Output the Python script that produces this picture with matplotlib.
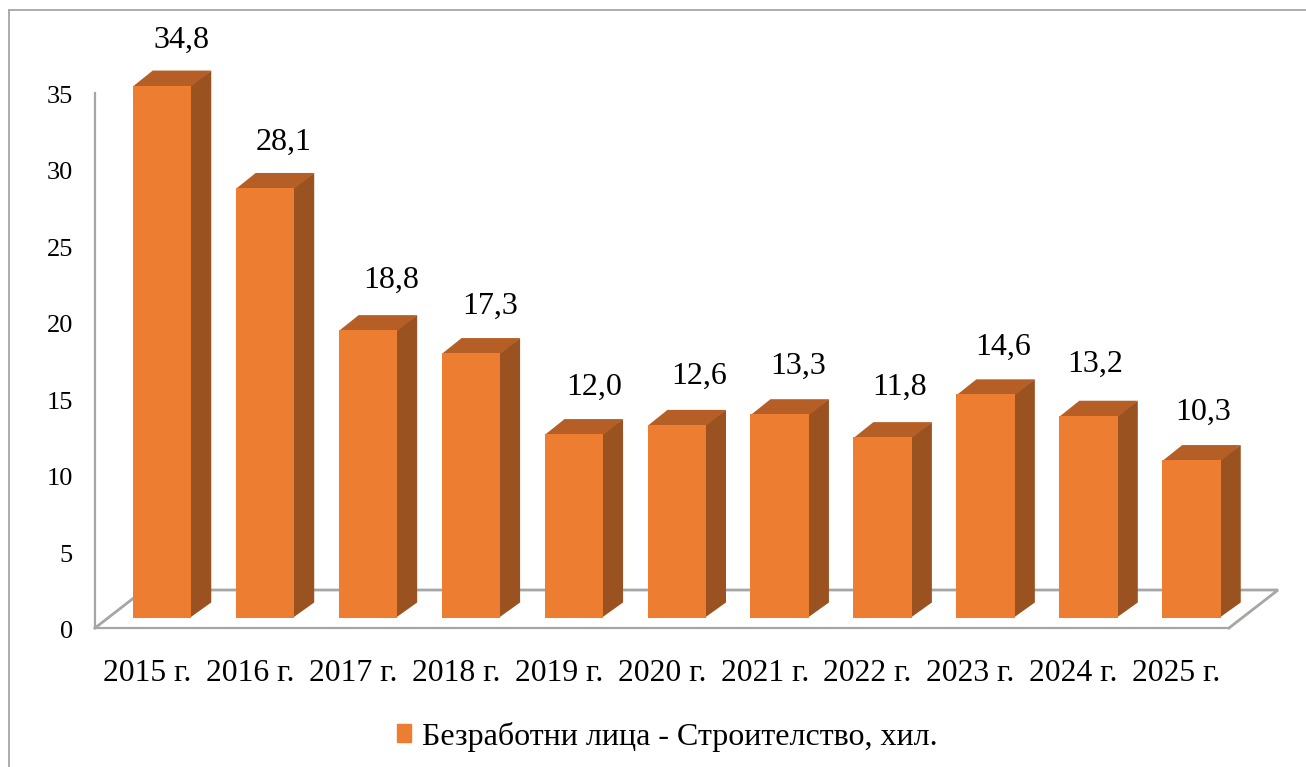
import matplotlib
matplotlib.use("Agg")
import matplotlib.pyplot as plt
from matplotlib.lines import Line2D
from matplotlib.patches import Patch
from matplotlib.transforms import ScaledTranslation

years = ["2015 г.", "2016 г.", "2017 г.", "2018 г.", "2019 г.", "2020 г.",
         "2021 г.", "2022 г.", "2023 г.", "2024 г.", "2025 г."]
values = [34.8, 28.1, 18.8, 17.3, 12.0, 12.6, 13.3, 11.8, 14.6, 13.2, 10.3]
value_labels = ["34,8", "28,1", "18,8", "17,3", "12,0", "12,6", "13,3", "11,8", "14,6", "13,2", "10,3"]
y_ticks = [0, 5, 10, 15, 20, 25, 30, 35]
legend_label = "Безработни лица - Строителство, хил."

# hand placement of the value labels, in pixels from the bar's top back edge
label_shift_x = [19, 19, 23, 19.5, 20, 22, 18.5, 17, 17.5, 7, 11.5]
label_shift_y = [30, 31, 35, 32, 32, 34, 33, 35, 32, 36, 33]

W, H = 1306, 767
FRONT, SIDE, TOP, GREY = "#ED7D31", "#9A5320", "#B55F26", "#A6A6A6"
plt.rcParams["font.family"] = ["Liberation Serif", "DejaVu Serif"]

fig = plt.figure(figsize=(W / 100, H / 100), dpi=100, facecolor="white")
L, R, T, B = 95, 1229, 93, 628
ax = fig.add_axes([L / W, 1 - B / H, (R - L) / W, (B - T) / H])
ax.set_facecolor("none")
ax.set_ylim(0, 35)
step = 102.95
ax.set_xlim((L - 162) / step, (R - 162) / step)

ux = 1 / step                # data units per pixel, x
uy = 35 / (B - T)            # data units per pixel, y
lift = 10.5 * uy             # front plane of the bars above the axis floor
dx, dy = 20 * ux, 15 * uy    # bar depth
width = 58.5 * ux

# floor
fx, fy = 49 * ux, 38 * uy
x0, x1 = ax.get_xlim()
ax.plot([x0, x0 + fx, x1 + fx, x1], [0, fy, fy, 0], color=GREY, lw=2.0,
        clip_on=False, zorder=1, solid_joinstyle="miter")

xs = list(range(len(values)))
ax.bar(xs, values, width=width, bottom=lift, color=FRONT, zorder=4, clip_on=False,
       label=legend_label)
for x, v in zip(xs, values):
    l, r = x - width / 2, x + width / 2
    t = lift + v
    ax.fill([r - ux, r + dx, r + dx, r - ux], [lift, lift + dy, t + dy, t], color=SIDE, lw=0,
            zorder=3, clip_on=False)
    ax.fill([l, l + dx, r + dx, r], [t - uy, t + dy, t + dy, t - uy], color=TOP, lw=0,
            zorder=3.2, clip_on=False)
for x, v, s, sx, sy in zip(xs, values, value_labels, label_shift_x, label_shift_y):
    ax.annotate(s, (x, lift + v + dy), xytext=(sx * 0.72, sy * 0.72), textcoords="offset points",
                ha="center", va="center", fontsize=23, color="black", zorder=5,
                annotation_clip=False)

for side in ("top", "right"):
    ax.spines[side].set_visible(False)
for side in ("left", "bottom"):
    ax.spines[side].set_color(GREY)
    ax.spines[side].set_linewidth(1.6)
ax.set_yticks(y_ticks)
ax.set_yticklabels([str(v) for v in y_ticks])
ax.set_xticks(xs)
ax.set_xticklabels(years)
ax.tick_params(axis="y", length=0, pad=16, labelsize=19)
ax.tick_params(axis="x", length=0, pad=22, labelsize=22.8)
shift = ScaledTranslation(-15 / 100, 0, fig.dpi_scale_trans)
for lab in ax.get_xticklabels():
    lab.set_transform(lab.get_transform() + shift)
shift_y = ScaledTranslation(0, -1.5 / 100, fig.dpi_scale_trans)
for lab in ax.get_yticklabels():
    lab.set_transform(lab.get_transform() + shift_y)

handle = Patch(color=FRONT)
ax.legend(handles=[handle], labels=[legend_label], loc="center left",
          bbox_to_anchor=(394 / W, 1 - 736.5 / H), bbox_transform=fig.transFigure,
          frameon=False, fontsize=23, handlelength=0.44, handleheight=0.47,
          handletextpad=0.34, borderpad=0.1, borderaxespad=0)

fig.add_artist(Line2D([9 / W, 9 / W], [0, 1 - 10 / H], color="#A6A6A6", lw=1.3))
fig.add_artist(Line2D([9 / W, 1], [1 - 10 / H, 1 - 10 / H], color="#A6A6A6", lw=1.3))

fig.savefig("out.png", dpi=100)
